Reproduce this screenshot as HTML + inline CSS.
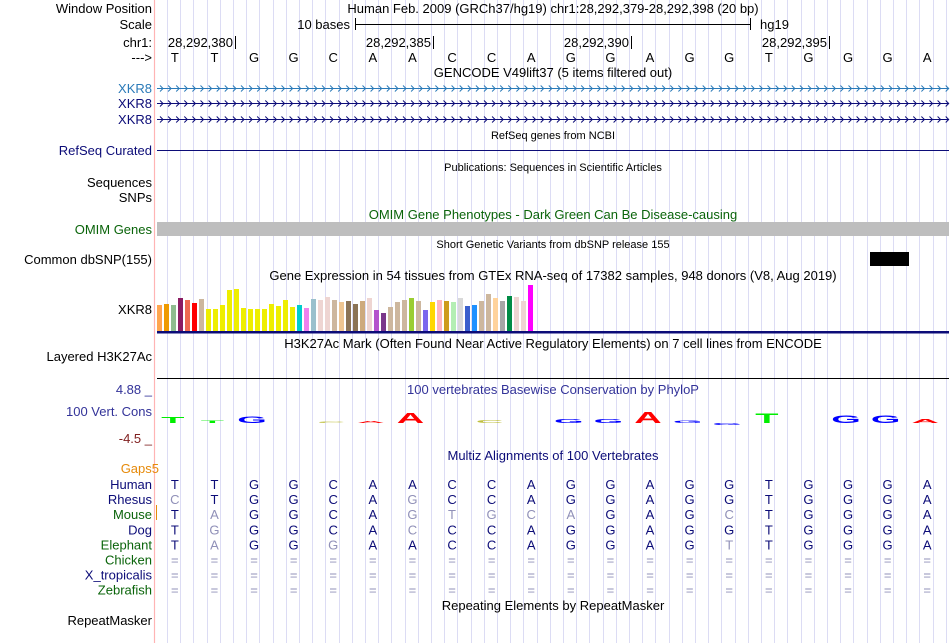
<!DOCTYPE html>
<html><head><meta charset="utf-8">
<style>
html,body{margin:0;padding:0;background:#fff;}
svg{display:block;font-family:"Liberation Sans",sans-serif;}
</style></head>
<body>
<svg id="s" width="950" height="643" viewBox="0 0 950 643" xmlns="http://www.w3.org/2000/svg">
<g id="grid"></g>
<line x1="154.5" y1="0" x2="154.5" y2="643" stroke="#ffb4b4" stroke-width="1.2"/>
<g font-size="13" fill="#000" text-anchor="end">
<text x="152" y="13">Window Position</text>
<text x="152" y="29">Scale</text>
<text x="152" y="47">chr1:</text>
<text x="152" y="62">---&gt;</text>
<text x="152" y="93" fill="#2a7ab8">XKR8</text>
<text x="152" y="108" fill="#0c0c78">XKR8</text>
<text x="152" y="124" fill="#0c0c78">XKR8</text>
<text x="152" y="155" fill="#0c0c78">RefSeq Curated</text>
<text x="152" y="187">Sequences</text>
<text x="152" y="202">SNPs</text>
<text x="152" y="234" fill="#0a640a">OMIM Genes</text>
<text x="152" y="264">Common dbSNP(155)</text>
<text x="152" y="314">XKR8</text>
<text x="152" y="361">Layered H3K27Ac</text>
<text x="152" y="394" fill="#333399">4.88 _</text>
<text x="152" y="416" fill="#333399">100 Vert. Cons</text>
<text x="152" y="443" fill="#802020">-4.5 _</text>
<text x="159" y="473" fill="#e68a0a">Gaps5</text>
<text x="152" y="625">RepeatMasker</text>
</g>
<g font-size="13" text-anchor="middle">
<text x="553" y="13">Human Feb. 2009 (GRCh37/hg19)   chr1:28,292,379-28,292,398 (20 bp)</text>
<text x="553" y="77">GENCODE V49lift37 (5 items filtered out)</text>
<text x="553" y="219" fill="#0a640a">OMIM Gene Phenotypes - Dark Green Can Be Disease-causing</text>
<text x="553" y="280">Gene Expression in 54 tissues from GTEx RNA-seq of 17382 samples, 948 donors (V8, Aug 2019)</text>
<text x="553" y="348">H3K27Ac Mark (Often Found Near Active Regulatory Elements) on 7 cell lines from ENCODE</text>
<text x="553" y="394" fill="#333399">100 vertebrates Basewise Conservation by PhyloP</text>
<text x="553" y="460" fill="#0c0c78">Multiz Alignments of 100 Vertebrates</text>
<text x="553" y="610">Repeating Elements by RepeatMasker</text>
</g>
<g font-size="11" text-anchor="middle">
<text x="553" y="139">RefSeq genes from NCBI</text>
<text x="553" y="171">Publications: Sequences in Scientific Articles</text>
<text x="553" y="248">Short Genetic Variants from dbSNP release 155</text>
</g>
<g>
<text x="350" y="29" font-size="13" text-anchor="end">10 bases</text>
<line x1="355.5" y1="18" x2="355.5" y2="30" stroke="#000"/>
<line x1="355" y1="24.5" x2="751" y2="24.5" stroke="#000"/>
<line x1="750.5" y1="18" x2="750.5" y2="30" stroke="#000"/>
<text x="760" y="29" font-size="13">hg19</text>
</g>
<g id="ruler" font-size="13"></g>
<g id="bases" font-size="13" text-anchor="middle"></g>
<g id="genes"></g>
<line x1="157" y1="150.5" x2="949" y2="150.5" stroke="#0c0c78"/>
<rect x="157" y="222" width="792" height="14" fill="#bebebe"/>
<rect x="870" y="252" width="39" height="14" fill="#000"/>
<g id="gtex"></g>
<rect x="157" y="331" width="792" height="2.5" fill="#0c0c78"/>
<line x1="157" y1="378.5" x2="949" y2="378.5" stroke="#000"/>
<g id="logo" font-size="20" font-weight="bold" text-anchor="middle"></g>
<line x1="156.5" y1="505" x2="156.5" y2="520" stroke="#e68a0a"/>
<g id="maf" font-size="13"></g>
</svg>
<script>
const NS="http://www.w3.org/2000/svg";
const refBases=["T","T","G","G","C","A","A","C","C","A","G","G","A","G","G","T","G","G","G","A"];
const rulerLabels=["28,292,380","28,292,385","28,292,390","28,292,395"];
const rulerBaseIdx=[1,6,11,16];
const gtexHeights=[26,27,26,33,31,28,32,22,22,26,41,42,23,22,22,22,27,25,31,24,26,23,32,31,34,31,29,30,27,30,33,21,18,24,29,31,33,30,21,29,31,30,29,33,25,26,30,37,33,30,35,34,30,46];
const gtexColors=["#FFA54F","#EE9A00","#8FBC8F","#8B1C62","#EE6A50","#FF0000","#CDB79E","#EEEE00","#EEEE00","#EEEE00","#EEEE00","#EEEE00","#EEEE00","#EEEE00","#EEEE00","#EEEE00","#EEEE00","#EEEE00","#EEEE00","#EEEE00","#00CDCD","#EE82EE","#9AC0CD","#EED5D2","#EED5D2","#CDB79E","#EEC591","#8B7355","#8B7355","#CDAA7D","#EED5D2","#B452CD","#7A378B","#CDB79E","#CDB79E","#CDB79E","#9ACD32","#CDB79E","#7A67EE","#FFD700","#FFB6C1","#CD9B1D","#B4EEB4","#D9D9D9","#3A5FCD","#1E90FF","#CDB79E","#CDB79E","#FFD39B","#A6A6A6","#008B45","#EED5D2","#EED5D2","#FF00FF"];
const phylopVals=[1.4,0.7,1.6,0,0.3,0.5,2.6,0,0.8,0,1.0,1.0,2.8,0.6,-0.5,2.4,0,2.0,2.0,0.9];
const species=["Human","Rhesus","Mouse","Dog","Elephant","Chicken","X_tropicalis","Zebrafish"];
const speciesColors=["#0c0c78","#0c0c78","#0a640a","#0c0c78","#0a640a","#0a640a","#0c0c78","#0a640a"];
const alignRows=["TTGGCAACCAGGAGGTGGGA","cTGGCAgCCAGGAGGTGGGA","TaGGCAgtgcaGAGcTGGGA","TgGGCAcCCAGGAGGTGGGA","TaGGgAACCAGGAGtTGGGA","====================","====================","===================="];

const X0=157,X1=949,N=20,BW=(X1-X0)/N;
const bx=i=>X0+BW*(i+0.45);
function el(tag,attrs,parent,txt){const e=document.createElementNS(NS,tag);for(const k in attrs)e.setAttribute(k,attrs[k]);if(txt!==undefined)e.textContent=txt;parent.appendChild(e);return e;}

const grid=document.getElementById('grid');
for(let x=167;x<949;x+=13.2){el('line',{x1:Math.round(x)+0.5,y1:0,x2:Math.round(x)+0.5,y2:643,stroke:'#dcdcf4','stroke-width':1},grid);}

const ruler=document.getElementById('ruler');
rulerLabels.forEach((lab,k)=>{
  const tx=Math.round(X0+BW*(rulerBaseIdx[k]+1)-1);
  const t=el('text',{x:tx-2,y:47,'text-anchor':'end'},ruler,lab);
  
  
  el('line',{x1:tx+0.5,y1:36,x2:tx+0.5,y2:49,stroke:'#000'},ruler);
});
const bases=document.getElementById('bases');
refBases.forEach((b,i)=>{const t=el('text',{x:bx(i),y:62},bases,b);
  
  });

const genes=document.getElementById('genes');
[[88,'#2a7ab8'],[103,'#0c0c78'],[119,'#0c0c78']].forEach(([y,c])=>{
  const g=el('g',{},genes);
  
  
  el('line',{x1:157,y1:y+0.5,x2:949,y2:y+0.5,stroke:c},g);
  let d='';for(let x=160;x<947;x+=8.1){d+=`M${x.toFixed(1)} ${y-2.5}L${(x+3).toFixed(1)} ${y+0.5}L${x.toFixed(1)} ${y+3.5}`;}
  el('path',{d:d,stroke:c,fill:'none','stroke-width':1},g);
});

const gtex=document.getElementById('gtex');
const gBase=331,gPitch=7,gX0=157;
const gy=v=>gBase-v;
gtexHeights.forEach((h,i)=>{
  const r=el('rect',{x:gX0+i*gPitch,y:gy(h),width:5,height:h,fill:gtexColors[i]},gtex);
  
  
});

const logo=document.getElementById('logo');
const letterColor={A:'#ff0000',C:'#c0c040',G:'#0000ff',T:'#00ee00'};
const zeroY=423,unitPx=4;
const py=v=>zeroY-v*unitPx;
phylopVals.forEach((v,i)=>{
  if(v===0)return;
  const h=Math.max(1.5,Math.abs(v)*unitPx);
  const sy=h/14.3;
  const cx=bx(i)-2;
  const baseY=v>0?zeroY:py(v);
  const t=el('text',{transform:`translate(${cx.toFixed(1)},${baseY.toFixed(1)}) scale(1.9,${sy.toFixed(3)})`,x:0,y:0,fill:letterColor[refBases[i]]},logo,refBases[i]);
  
  
});

const maf=document.getElementById('maf');
species.forEach((sp,r)=>{
  const y=489+r*15.1;
  const lab=el('text',{x:152,y:y,'text-anchor':'end',fill:speciesColors[r]},maf,sp);
  
  
  alignRows[r].split('').forEach((ch,i)=>{
    const gray=ch!==ch.toUpperCase()||ch==='=';
    const t=el('text',{x:bx(i),y:y,'text-anchor':'middle',fill:gray?'#9090b8':'#0c0c78'},maf,ch.toUpperCase());
    
    
  });
});
</script>
</body></html>
